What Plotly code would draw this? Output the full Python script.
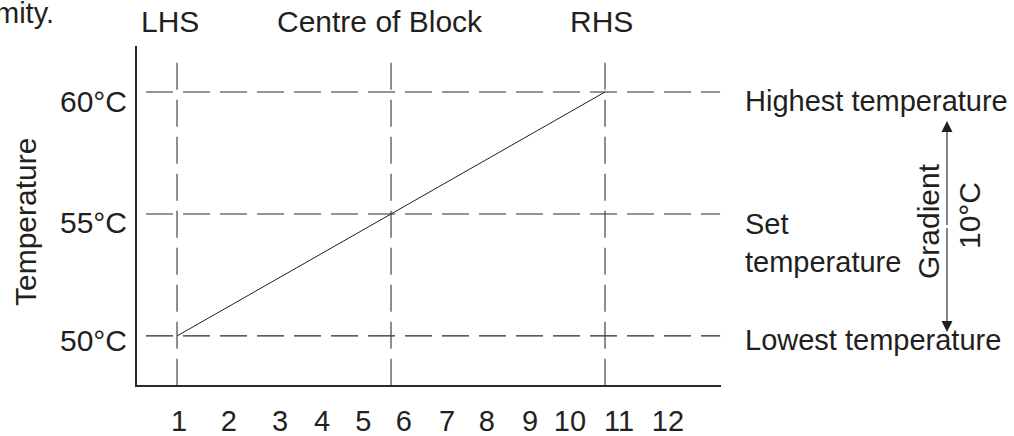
import plotly.graph_objects as go

# ---------------- data ----------------
block_positions = [1, 6, 11]
block_labels = ["LHS", "Centre of Block", "RHS"]
temp_levels = [50, 55, 60]
temp_tick_text = ["50°C", "55°C", "60°C"]
level_labels = ["Lowest temperature", "Set<br>temperature", "Highest temperature"]
line_x = [1, 11]
line_y = [50, 60]
x_tick_text = ["1", "2", "3", "4", "5", "6", "7", "8", "9", "10", "11", "12"]
x_tick_pos = [1.05, 2.21, 3.41, 4.39, 5.35, 6.30, 7.31, 8.24, 9.25, 10.18, 11.33, 12.47]
y_title = "Temperature"
gradient_label = "Gradient"
gradient_value = "10°C"
cut_text = "mity."

# ---------------- layout constants ----------------
W, H = 1014, 436
ML, MR, MT, MB = 137, 293, 46, 51
PW, PH = W - ML - MR, H - MT - MB
TXT = "#231f20"
LINE = "#2a2a2a"
FONT = "Liberation Sans, Arial, sans-serif"
FS = 30
XR = [0.065, 13.71]
YR = [47.99, 61.885]


def px_x(p):
    return (p - ML) / PW


def px_y(p):
    return (H - MB - p) / PH


fig = go.Figure()

fig.add_trace(go.Scatter(x=line_x, y=line_y, mode="lines",
                         line=dict(color=TXT, width=1), hoverinfo="skip",
                         showlegend=False))

shapes = []
for yv in temp_levels:
    shapes.append(dict(type="line", xref="x", yref="y", x0=0.276, x1=13.69,
                       y0=yv, y1=yv, line=dict(color=LINE, width=1.2, dash="27px,10px")))
for xv in block_positions:
    shapes.append(dict(type="line", xref="x", yref="y", x0=xv, x1=xv,
                       y0=61.2, y1=YR[0], line=dict(color="#444444", width=1.2, dash="27px,10px")))

ann = []
# top block labels
top_offsets = [-0.16, -0.26, -0.09]
for xv, lab, off in zip(block_positions, block_labels, top_offsets):
    ann.append(dict(x=xv + off, y=px_y(21.5), xref="x", yref="paper", text=lab,
                    showarrow=False, xanchor="center", yanchor="middle",
                    font=dict(size=FS, color=TXT, family=FONT)))
# y tick labels (left)
y_shifts = [-5, -8.5, -9.5]
for yv, lab, sh in zip(temp_levels, temp_tick_text, y_shifts):
    ann.append(dict(x=px_x(129), y=yv, xref="paper", yref="y", text=lab, yshift=sh,
                    showarrow=False, xanchor="right", yanchor="middle",
                    font=dict(size=FS, color=TXT, family=FONT)))
# right level labels
r_shifts = [-4, -29.5, -9]
for yv, lab, sh in zip(temp_levels, level_labels, r_shifts):
    ann.append(dict(x=px_x(743), y=yv, xref="paper", yref="y", text=lab, yshift=sh,
                    showarrow=False, xanchor="left", yanchor="middle", align="left",
                    font=dict(size=FS - 1, color=TXT, family=FONT)))
# y axis title
ann.append(dict(x=px_x(25), y=px_y(222), xref="paper", yref="paper", text=y_title,
                textangle=-90, showarrow=False, xanchor="center", yanchor="middle",
                font=dict(size=FS, color=TXT, family=FONT)))
# gradient texts
ann.append(dict(x=px_x(928), y=px_y(221), xref="paper", yref="paper", text=gradient_label,
                textangle=-90, showarrow=False, xanchor="center", yanchor="middle",
                font=dict(size=FS, color=TXT, family=FONT)))
ann.append(dict(x=px_x(969), y=px_y(216), xref="paper", yref="paper", text=gradient_value,
                textangle=-90, showarrow=False, xanchor="center", yanchor="middle",
                font=dict(size=FS, color=TXT, family=FONT)))
# double arrow (two halves, each with its own head)
top_tip, bot_tip = 121, 332
mid_y = (top_tip + bot_tip) / 2
for tip in (top_tip, bot_tip):
    ann.append(dict(x=px_x(947), y=px_y(tip), xref="paper", yref="paper", text="",
                    ax=0, ay=mid_y - tip,
                    showarrow=True, arrowhead=2, arrowsize=2, arrowwidth=1.1,
                    arrowcolor=TXT, standoff=0, startstandoff=0))
# cut-off caption fragment
ann.append(dict(x=px_x(56), y=px_y(13), xref="paper", yref="paper", text=cut_text,
                showarrow=False, xanchor="right", yanchor="middle",
                font=dict(size=FS - 1, color=TXT, family=FONT)))

fig.update_layout(
    width=W, height=H, autosize=False,
    margin=dict(l=ML, r=MR, t=MT, b=MB, pad=0, autoexpand=False),
    paper_bgcolor="white", plot_bgcolor="white",
    showlegend=False, hovermode=False,
    shapes=shapes, annotations=ann,
    xaxis=dict(range=XR, showline=True, linecolor=LINE, linewidth=1.5, mirror=False,
               showgrid=False, zeroline=False, ticks="", tickmode="array",
               tickvals=x_tick_pos, ticktext=x_tick_text, ticklabelstandoff=9,
               automargin=False,
               tickfont=dict(size=FS - 1, color=TXT, family=FONT), fixedrange=True),
    yaxis=dict(range=YR, showline=True, linecolor=LINE, linewidth=1.5,
               showgrid=False, zeroline=False, ticks="", showticklabels=False,
               automargin=False, fixedrange=True),
)

fig.write_html("out.html", config={"displayModeBar": False},
               post_script="document.body.style.margin='0';document.body.style.overflow='hidden';")
